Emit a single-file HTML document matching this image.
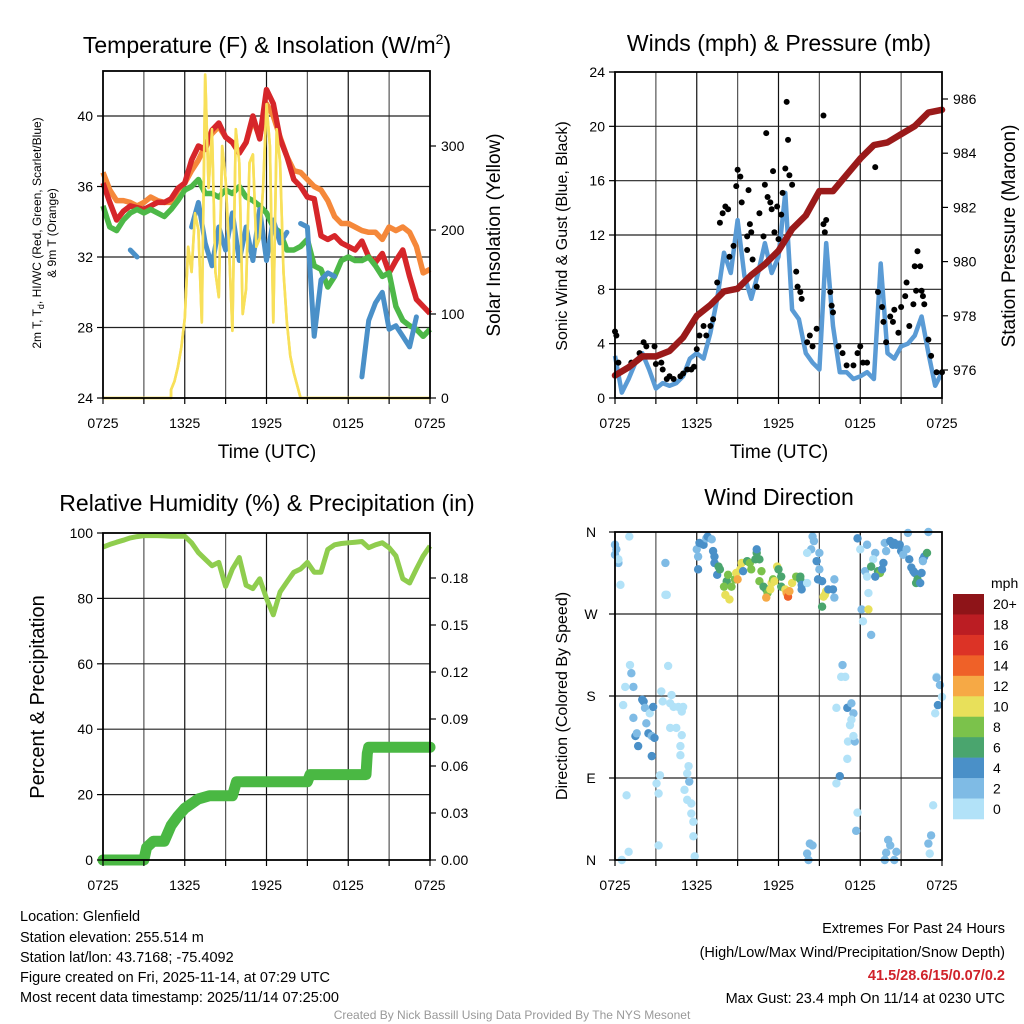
<!DOCTYPE html>
<html><head><meta charset="utf-8">
<style>
html,body{margin:0;padding:0;background:#fff;}
svg{display:block;font-family:"Liberation Sans",Arial,sans-serif;}
</style></head>
<body>
<svg id="chart" width="1024" height="1024" viewBox="0 0 1024 1024" xmlns="http://www.w3.org/2000/svg">
<rect width="1024" height="1024" fill="#fff"/>
<text x="267" y="53" font-size="23" text-anchor="middle">Temperature (F) &amp; Insolation (W/m<tspan dy="-9" font-size="14">2</tspan><tspan dy="9">)</tspan></text>
<text x="779" y="51" font-size="23" text-anchor="middle">Winds (mph) &amp; Pressure (mb)</text>
<text x="267" y="511" font-size="23" text-anchor="middle">Relative Humidity (%) &amp; Precipitation (in)</text>
<text x="779" y="505" font-size="23" text-anchor="middle">Wind Direction</text>
<text transform="translate(41,233) rotate(-90)" font-size="12" text-anchor="middle">2m T, T<tspan font-size="9" dy="3">d</tspan><tspan dy="-3">, HI/WC (Red, Green, Scarlet/Blue)</tspan></text>
<text transform="translate(56,233) rotate(-90)" font-size="12" text-anchor="middle">&amp; 9m T (Orange)</text>
<text transform="translate(500,235) rotate(-90)" font-size="19" text-anchor="middle">Solar Insolation (Yellow)</text>
<text x="267" y="458" font-size="19" text-anchor="middle">Time (UTC)</text>
<text transform="translate(567,236) rotate(-90)" font-size="16" text-anchor="middle">Sonic Wind &amp; Gust (Blue, Black)</text>
<text transform="translate(1015,236) rotate(-90)" font-size="19" text-anchor="middle">Station Pressure (Maroon)</text>
<text x="779" y="458" font-size="19" text-anchor="middle">Time (UTC)</text>
<text transform="translate(44,697) rotate(-90)" font-size="20" text-anchor="middle">Percent &amp; Precipitation</text>
<text transform="translate(567,696) rotate(-90)" font-size="16" text-anchor="middle">Direction (Colored By Speed)</text>
<g id="plots"></g>
<g font-size="14.5">
<text x="20" y="921">Location: Glenfield</text>
<text x="20" y="942">Station elevation: 255.514 m</text>
<text x="20" y="962">Station lat/lon: 43.7168; -75.4092</text>
<text x="20" y="982">Figure created on Fri, 2025-11-14, at 07:29 UTC</text>
<text x="20" y="1002">Most recent data timestamp: 2025/11/14 07:25:00</text>
</g>
<g font-size="14.5" text-anchor="end">
<text x="1005" y="933">Extremes For Past 24 Hours</text>
<text x="1005" y="957">(High/Low/Max Wind/Precipitation/Snow Depth)</text>
<text x="1005" y="980" fill="#d0222a" font-weight="bold">41.5/28.6/15/0.07/0.2</text>
<text x="1005" y="1003">Max Gust: 23.4 mph On 11/14 at 0230 UTC</text>
</g>
<text x="512" y="1019" font-size="12" fill="#999" text-anchor="middle">Created By Nick Bassill Using Data Provided By The NYS Mesonet</text>
</svg>
<script>
const timeLabels = ["0725","1325","1925","0125","0725"];
const tempTicks = [24,28,32,36,40];
const solarTicks = [0,100,200,300];
const windTicks = [0,4,8,12,16,20,24];
const presTicks = [976,978,980,982,984,986];
const rhTicks = [0,20,40,60,80,100];
const precipTicks = ["0.00","0.03","0.06","0.09","0.12","0.15","0.18"];
const dirTicks = ["N","E","S","W","N"];
const speedLabels = ["20+","18","16","14","12","10","8","6","4","2","0"];
const speedColors = ["#8e1418","#bb1d23","#dc3326","#ef6128","#f6a945","#e8e05a","#7bc24b","#4aa56e","#4a90c8","#7fbbe5","#b2e2f8"];
const tempRed = [36.2,35.1,34.1,34.6,34.9,34.8,34.7,34.9,35.1,35.1,35.3,35.9,36.2,37.5,38.3,38.1,39.2,39.6,38.8,38.5,37.9,38.5,40.0,38.7,41.5,40.7,38.7,37.7,36.4,36.0,35.4,35.3,33.2,33.0,33.2,32.8,32.6,32.4,32.9,32.0,31.7,32.2,31.1,31.8,32.4,30.9,29.6,29.2,28.8];
const temp9m = [36.8,35.8,35.2,35.2,35.1,34.9,35.1,35.4,35.2,35.1,35.1,35.8,36.2,36.9,37.5,38.3,39.0,39.4,38.8,38.5,37.9,38.5,39.8,38.8,40.7,40.0,38.8,37.7,36.9,36.8,36.4,36.0,35.8,35.2,34.3,33.9,33.9,33.7,33.5,33.4,33.4,33.0,33.7,33.5,33.7,33.4,32.6,31.1,31.3];
const dewpoint = [34.9,33.7,33.5,34.1,34.5,34.7,34.5,34.7,34.5,34.3,34.7,35.2,35.8,36.0,36.4,35.6,35.6,35.4,35.8,35.6,36.0,35.4,35.2,34.9,34.5,33.7,33.4,32.4,32.4,32.6,33.0,31.5,31.3,30.3,30.9,31.8,32.0,31.8,31.8,32.0,31.5,30.9,31.1,29.2,28.4,28.1,27.9,27.5,27.9];
const windChill = [33.9,null,null,null,32.4,32.0,null,null,null,null,null,null,null,33.7,35.1,32.8,31.5,33.7,32.4,34.5,31.8,33.7,31.8,34.7,31.8,34.1,32.8,33.4,null,33.9,33.7,27.5,30.7,31.1,30.9,null,null,null,25.2,28.4,29.4,30.0,27.9,28.1,27.5,26.9,28.6,null,null];
const solarStart = 5.0;
const solar = [10,20,37,60,95,180,150,220,200,90,385,250,320,150,120,300,260,180,80,320,280,100,130,280,290,180,190,250,350,300,90,320,280,150,90,50,30,15,0];
const windSpeed = [3.1,0.4,1.4,2.6,3.3,2.1,0.7,1.1,0.9,1.1,1.6,2.9,3.3,2.9,4.8,7.3,10.7,9.2,13.1,9.0,7.3,9.2,11.4,9.2,10.4,15.1,6.5,5.8,3.3,2.6,2.1,11.4,5.3,1.9,1.9,1.4,1.6,1.9,1.4,9.9,3.3,2.9,3.8,4.0,4.6,6.0,3.3,0.9,1.9];
const pressure = [975.8,976.1,976.5,976.5,976.7,977.2,978.0,978.4,978.9,979.0,979.5,979.9,980.4,981.2,981.7,982.6,982.6,983.2,983.8,984.3,984.4,984.7,985.0,985.5,985.6];
const gustHours = [0,0.1,0.25,1.2,1.8,2.1,2.3,2.9,3,3.4,3.5,3.8,4,4.3,4.8,5,5.3,5.6,5.8,6,6.2,6.5,6.7,7,7.2,7.5,7.7,7.9,8.1,8.3,8.4,8.7,8.9,9,9.2,9.3,9.7,9.8,9.9,10,9.7,10.1,10.4,10.6,10.9,11,11.1,11.2,11.4,11.5,11.6,11.7,11.9,12,12.2,12.3,12.5,12.6,12.7,12.8,13,13.3,13.4,13.6,13.7,14.1,14.3,14.5,14.8,15.3,15.3,15.4,15.5,15.8,15.9,16,16.4,16.7,17,17.5,17.8,18,18.2,18.5,19.1,19.3,19.6,19.7,19.9,20.2,20.4,20.5,20.8,21,21.3,21.4,21.6,21.9,22,22.1,22.2,22.4,22.5,22.6,22.7,23,23.2,23.6,24];
const gustSpeeds = [4.9,4.6,2.6,2.6,3.3,4.1,3.8,3.8,2.5,2.6,2.1,1.4,1.6,1.4,1.6,1.8,2.1,2.1,2.3,3.6,4.6,5.3,4.6,5.3,5.8,8.5,12.9,13.6,14.1,13.9,10.4,11.2,15.6,16.8,16.3,14.4,11.9,15.3,12.8,12.2,10.9,10.2,8.2,13.6,11.9,15.7,19.5,14.8,14.4,13.9,16.7,12.2,14.1,11.7,13.5,15.1,16.9,21.8,19.0,16.4,15.7,9.3,8.2,7.8,7.3,4.1,4.6,3.8,5.1,20.8,12.8,12.2,13.1,7.8,6.8,6.3,3.8,3.3,2.4,2.4,3.3,3.8,2.6,2.6,17.0,7.8,6.7,5.6,4.1,6.0,5.6,6.5,4.8,6.7,7.5,8.5,5.3,6.9,9.7,7.9,10.8,9.7,7.9,7.5,6.9,4.3,3.1,1.9,1.9];
const rh = [95.7,96.5,97.2,97.8,98.5,98.9,99.2,99.2,99.2,99.1,99.0,99.0,99.0,97,94,92,90,91,83.7,89,92.5,84,83,86,80,75,82,85,88,89,91,88,88,95,96.4,96.8,97,97.2,97.4,95.5,96.4,97,95.5,93,86,84.7,89,93,96];
const precipHours = [0,3.0,3.2,3.7,4.5,5.0,5.5,6.0,6.5,7.0,7.8,9.5,9.8,15.0,15.2,19.3,19.4,19.5,24];
const precipValues = [0,0,0.008,0.012,0.012,0.022,0.028,0.033,0.036,0.039,0.041,0.041,0.05,0.05,0.0545,0.0545,0.068,0.072,0.072];
const dirHours = [0,0.1,0,0.25,0.25,0.4,1.05,0.5,1.0,0.85,1.1,1.2,1.35,0.75,0.6,1.35,1.5,1.6,1.7,2.0,2.1,2.2,2.3,2.45,2.55,2.7,2.7,2.9,2.8,3.4,3.5,3.9,4.15,4.05,4.3,4.65,4.9,5.0,4.05,4.5,4.9,4.8,4.8,5.4,5.3,5.1,5.45,5.3,5.6,5.6,5.75,5.75,5.85,3.3,3.05,3.2,3.2,3.7,3.7,3.8,
6,6.2,6.5,6.7,6.8,7.1,6.1,6.1,7.2,7.3,7.3,7.5,7.6,7.7,8.2,8.3,8.0,8.55,8.1,8.4,8.8,8.9,9.0,9.2,9.3,9.4,9.7,9.9,10,10.3,10.4,10.4,10.6,10.6,10.75,10.9,11.1,11.2,11.1,11.4,11.5,11.6,11.7,11.9,12,12.2,12.2,12.5,12.6,12.7,12.8,13,13.3,13.6,13.6,13.7,13.7,14.1,14.5,14.6,14.4,14.1,15,14.8,15,14.9,15.2,15.2,15.3,15.4,15.5,15.65,16,16.1,16.1,17.8,18,18.5,18.35,18.5,18.6,18.2,18.8,18.1,18.6,19.1,18.95,18.8,19.3,19.45,19.1,19.6,19.7,19.9,19.8,20.2,20.4,20.5,20.65,20.9,21,21.15,21.4,21.5,21.6,21.75,21.9,22,22.1,22.2,22.4,22.5,22.6,22.7,22.9,22.6,23,
16.7,16.9,16.6,16.25,17.05,17.35,17.5,17.35,17.25,17.1,17.6,17.5,17.05,16.5,16.25,17.8,17.7,14.3,14.5,14.1,14.2,20.05,20.2,19.9,19.8,20.65,20.5,23,23.2,23.1,23.35,23.5,23.6,23.7,23.85,24,23.6];
const dirDegrees = [346,341,335,326,330,302,355,0,9,71,214,205,190,190,170,156,136,139,125,176,174,167,150,139,161,136,114,134,168,185,174,213,181,172,168,168,163,168,145,145,137,125,115,103,95,77,86,66,62,51,42,26,4,93,84,73,16,326,291,291,
341,348,346,353,355,352,333,319,339,333,326,313,322,319,306,313,300,300,291,286,308,315,308,319,326,317,328,326,319,330,337,341,330,306,317,300,297,293,288,297,304,308,306,322,319,311,300,297,293,289,295,304,311,308,311,302,297,304,355,350,341,337,337,328,319,308,306,278,289,291,295,297,297,288,308,353,341,346,317,311,293,262,247,275,275,337,330,322,317,315,311,319,326,339,348,350,346,348,346,346,339,335,341,359,330,321,317,315,304,308,304,315,330,333,337,328,360,
214,201,201,167,167,172,161,154,148,130,130,136,111,92,84,52,32,18,16,7,0,22,16,8,0,9,0,18,27,7,60,161,201,170,192,179,200];
const dirSpeeds = [3,3,3,3,1,1,1,1,1,1,1,3,3,1,1,3,5,3,5,5,5,3,3,5,1,3,5,5,5,1,1,1,1,1,1,1,1,1,1,1,1,1,1,1,1,1,3,1,1,1,1,1,1,1,1,1,1,3,1,1,
3,5,5,3,5,3,3,5,5,5,5,5,7,7,7,9,9,9,11,11,9,11,13,11,11,5,7,9,9,7,7,5,7,9,9,7,7,9,13,11,11,9,11,11,7,7,7,11,13,15,13,11,9,7,7,5,5,1,3,3,3,1,3,5,3,5,5,7,11,11,11,5,5,3,3,5,1,3,3,1,1,1,3,3,11,3,1,7,7,9,5,5,5,3,3,5,5,5,5,5,5,3,3,3,5,5,5,5,7,7,5,5,5,5,7,3,
3,3,1,1,1,5,3,3,1,1,1,3,1,1,5,1,1,3,3,3,3,3,3,3,3,3,3,3,3,3,1,1,1,1,5,3,1];

const NS="http://www.w3.org/2000/svg";
const root=document.getElementById('plots');
function el(tag,attrs,parent){const e=document.createElementNS(NS,tag);for(const k in attrs)e.setAttribute(k,attrs[k]);(parent||root).appendChild(e);return e;}
function panel(L,R,T,B){return {L,R,T,B,x:h=>L+h/24*(R-L)};}
const P1=panel(103,430,71,398), P2=panel(615,942,72,398), P3=panel(103,430,533,860), P4=panel(615,942,532,860);
const yTemp=v=>398-(v-24)*17.625, ySolar=v=>398-v*0.84;
const yWind=v=>398-v*(326/24), yPres=v=>370-(v-976)*27.1;
const yRH=v=>860-v*3.27, yPrecip=v=>860-v*(47/0.03);
const yDir=v=>860-v*(328/360);

function linePath(hours,vals,xf,yf){let d="",pen=false;for(let i=0;i<vals.length;i++){if(vals[i]==null){pen=false;continue;}d+=(pen?"L":"M")+xf(hours[i]).toFixed(1)+","+yf(vals[i]).toFixed(1);pen=true;}return d;}
const half=Array.from({length:49},(_,i)=>i*0.5);
const hourly=Array.from({length:25},(_,i)=>i);

function grid(P,yVals,yf,name){
  const g=el('g',{});
  
  
  for(let h=3;h<24;h+=3){el('line',{x1:P.x(h),x2:P.x(h),y1:P.T,y2:P.B,stroke:(h%6?'#555':'#111'),'stroke-width':1.2},g);}
  yVals.forEach(v=>{const y=yf(v);if(y>P.T+1&&y<P.B-1)el('line',{x1:P.L,x2:P.R,y1:y,y2:y,stroke:'#222','stroke-width':1.2},g);});
}
function frame(P,name){
  const r=el('rect',{x:P.L,y:P.T,width:P.R-P.L,height:P.B-P.T,fill:'none',stroke:'#000','stroke-width':1.8});
  
  
}
function xAxis(P,name){
  const g=el('g',{'font-size':14,'text-anchor':'middle'});
  
  
  for(let h=0;h<=24;h+=3){el('line',{x1:P.x(h),x2:P.x(h),y1:P.B,y2:P.B+6,stroke:'#000','stroke-width':1.2},g);}
  timeLabels.forEach((t,i)=>{const tx=el('text',{x:P.x(i*6),y:P.B+30},g);tx.textContent=t;});
}
function yAxis(P,ticks,yf,side,name,labels){
  const g=el('g',{'font-size':14,'text-anchor':side==='left'?'end':'start'});
  
  
  ticks.forEach((v,i)=>{const y=yf(v);const x0=side==='left'?P.L:P.R;const dx=side==='left'?-6:6;
    el('line',{x1:x0,x2:x0+dx,y1:y,y2:y,stroke:'#000','stroke-width':1.2},g);
    const t=el('text',{x:x0+(side==='left'?-10:11),y:y+5},g);t.textContent=labels?labels[i]:v;});
}

grid(P1,tempTicks,yTemp,'temperature');
(function(){
  const sh=solar.map((_,i)=>solarStart+i*0.25);
  const hs=[0,solarStart-0.01].concat(sh).concat([24]); const vs=[0,0].concat(solar).concat([0]);
  const p=el('path',{d:linePath(hs,vs,P1.x,ySolar),fill:'none',stroke:'#f8e05a','stroke-width':2.6,'stroke-linejoin':'round'});
  
  
  const a=el('path',{d:linePath(half,temp9m,P1.x,yTemp),fill:'none',stroke:'#f5883a','stroke-width':5.5,'stroke-linejoin':'round'});
  
  
  const b=el('path',{d:linePath(half,tempRed,P1.x,yTemp),fill:'none',stroke:'#d6262a','stroke-width':5.5,'stroke-linejoin':'round'});
  
  
  const c=el('path',{d:linePath(half,dewpoint,P1.x,yTemp),fill:'none',stroke:'#4db848','stroke-width':5.5,'stroke-linejoin':'round'});
  
  
  const w=el('path',{d:linePath(half,windChill,P1.x,yTemp),fill:'none',stroke:'#4a90c8','stroke-width':5,'stroke-linejoin':'round','stroke-linecap':'round'});
  
  
  const p2=el('path',{d:linePath(hs,vs,P1.x,ySolar),fill:'none',stroke:'#f8e05a','stroke-width':2.6,'stroke-linejoin':'round'});
  
  
})();
frame(P1,'temperature');
xAxis(P1,'temperature');
yAxis(P1,tempTicks,yTemp,'left','temperature-y-axis');
yAxis(P1,solarTicks,ySolar,'right','solar-y-axis');

grid(P2,windTicks,yWind,'wind');
(function(){
  const w=el('path',{d:linePath(half,windSpeed,P2.x,yWind),fill:'none',stroke:'#5a9bd5','stroke-width':4.5,'stroke-linejoin':'round'});
  
  
  const g=el('g',{fill:'#000'});
  
  
  gustHours.forEach((h,i)=>{const c=el('circle',{cx:P2.x(h),cy:yWind(gustSpeeds[i]),r:3},g);
    
    });
  const p=el('path',{d:linePath(hourly,pressure,P2.x,yPres),fill:'none',stroke:'#9a1a1a','stroke-width':6.5,'stroke-linejoin':'round','stroke-linecap':'round'});
  
  
})();
frame(P2,'wind');
xAxis(P2,'wind');
yAxis(P2,windTicks,yWind,'left','wind-y-axis');
yAxis(P2,presTicks,yPres,'right','pressure-y-axis');

grid(P3,rhTicks,yRH,'humidity');
(function(){
  const pv=precipTicks.map(Number);
  const r=el('path',{d:linePath(half,rh,P3.x,yRH),fill:'none',stroke:'#8fcd4e','stroke-width':5,'stroke-linejoin':'round'});
  
  
  const p=el('path',{d:linePath(precipHours,precipValues,P3.x,yPrecip),fill:'none',stroke:'#4ab843','stroke-width':11,'stroke-linejoin':'round','stroke-linecap':'round'});
  
  
  frame(P3,'humidity');
  xAxis(P3,'humidity');
  yAxis(P3,rhTicks,yRH,'left','humidity-y-axis');
  yAxis(P3,pv,yPrecip,'right','precipitation-y-axis',precipTicks);
})();

grid(P4,[90,180,270],yDir,'direction');
(function(){
  const g=el('g',{});
  
  
  const n=Math.min(dirHours.length,dirDegrees.length);
  for(let i=0;i<n;i++){
    const h=dirHours[i];
    let s=dirSpeeds[i]; if(s==null||isNaN(s)) s=3;
    const bin=Math.max(0,Math.min(10,Math.floor(s/2)));
    const col=speedColors[10-bin];
    const c=el('circle',{cx:P4.x(h),cy:yDir(dirDegrees[i]),r:4.2,fill:col},g);
    
    
  }
  frame(P4,'direction');
  xAxis(P4,'direction');
  const ga=el('g',{'font-size':14,'text-anchor':'middle'});
  
  
  dirTicks.forEach((t,i)=>{const y=yDir(i*90);el('line',{x1:P4.L,x2:P4.L-6,y1:y,y2:y,stroke:'#000','stroke-width':1.2},ga);const tx=el('text',{x:P4.L-24,y:y+5},ga);tx.textContent=t;});
  const cb=el('g',{});
  
  
  const top=594,bh=(819-594)/11;
  speedColors.forEach((c,i)=>{el('rect',{x:953,y:top+i*bh,width:31,height:bh+0.3,fill:c},cb);});
  const u=el('text',{x:991,y:588,'font-size':14},cb);u.textContent='mph';
  speedLabels.forEach((l,i)=>{const t=el('text',{x:993,y:top+i*bh+bh/2+5,'font-size':14},cb);t.textContent=l;});
})();
</script>
</body></html>
